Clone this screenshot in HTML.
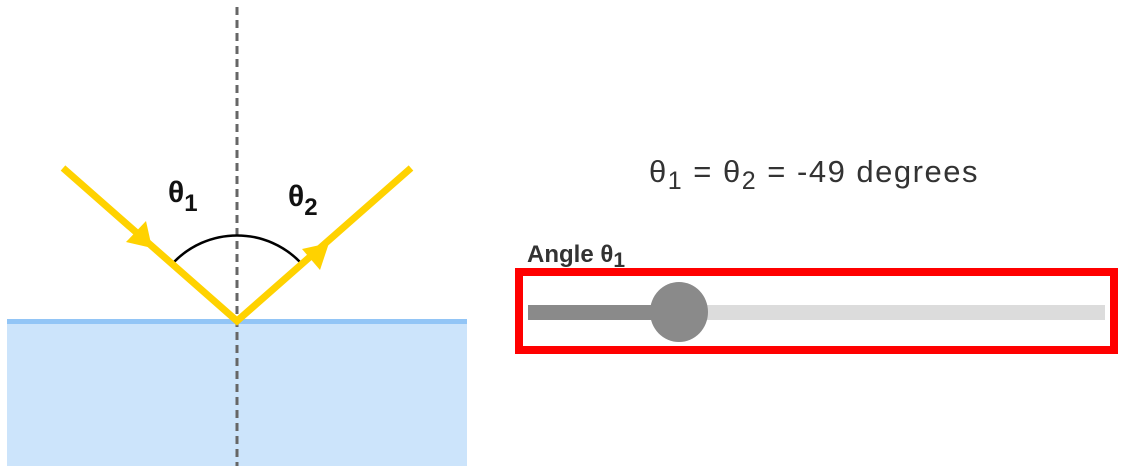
<!DOCTYPE html>
<html><head><meta charset="utf-8"><style>
html,body{margin:0;padding:0;background:#fff;width:1122px;height:473px;overflow:hidden}
</style></head><body>
<svg width="1122" height="473" viewBox="0 0 1122 473" xmlns="http://www.w3.org/2000/svg" style="display:block">
<rect x="7" y="321" width="460" height="145" fill="#cce4fb"/>
<rect x="7" y="319" width="460" height="5" fill="#92c5f6"/>
<line x1="237" y1="7" x2="237" y2="466" stroke="#666" stroke-width="3" stroke-dasharray="8,5"/>
<path d="M174 262 A88 88 0 0 1 300 262" fill="none" stroke="#000" stroke-width="2.5"/>
<polyline points="63,168 237,321 411,168" fill="none" stroke="#ffd200" stroke-width="7" stroke-linejoin="miter"/>
<polygon points="152,248 126,242 146,221" fill="#ffd200"/>
<polygon points="329,243 320,270 302,249" fill="#ffd200"/>
<text x="168" y="202" font-family="Liberation Sans, sans-serif" font-weight="bold" font-size="30" fill="#111">θ<tspan font-size="24" dy="9">1</tspan></text>
<text x="288" y="206" font-family="Liberation Sans, sans-serif" font-weight="bold" font-size="30" fill="#111">θ<tspan font-size="24" dy="9">2</tspan></text>
<text x="814" y="182" text-anchor="middle" font-family="Liberation Sans, sans-serif" font-size="31" letter-spacing="1.5" fill="#333">θ<tspan font-size="25" dy="7">1</tspan><tspan dy="-7"> = θ</tspan><tspan font-size="25" dy="7">2</tspan><tspan dy="-7"> = -49 degrees</tspan></text>
<text x="527" y="262" font-family="Liberation Sans, sans-serif" font-weight="bold" font-size="24" fill="#333">Angle θ<tspan font-size="21" dy="5">1</tspan></text>
<rect x="519" y="272" width="595" height="78" fill="none" stroke="#ff0000" stroke-width="8"/>
<rect x="528" y="305" width="577" height="15" fill="#dcdcdc"/>
<rect x="528" y="305" width="152" height="15" fill="#8a8a8a"/>
<ellipse cx="679" cy="312" rx="29" ry="30" fill="#8a8a8a"/>
</svg>
</body></html>
